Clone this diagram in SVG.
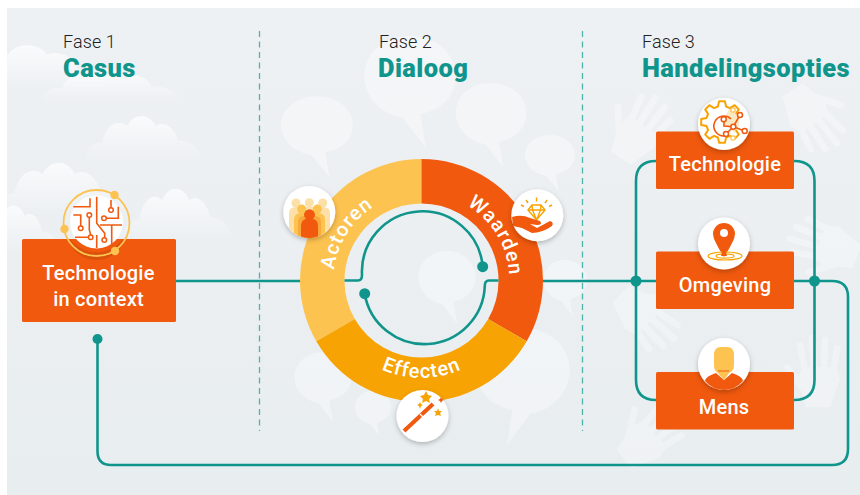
<svg xmlns="http://www.w3.org/2000/svg" width="860" height="495" viewBox="0 0 860 495">
<defs>
<linearGradient id="bg" x1="0" y1="0" x2="0" y2="1"><stop offset="0" stop-color="#eef1f4"/><stop offset="1" stop-color="#e8edf0"/></linearGradient>
<linearGradient id="cl" x1="0" y1="0" x2="0" y2="1"><stop offset="0" stop-color="#fff" stop-opacity=".7"/><stop offset="1" stop-color="#fff" stop-opacity="0"/></linearGradient>
<filter id="sh" x="-30%" y="-30%" width="160%" height="160%"><feDropShadow dx="0" dy="2" stdDeviation="2.5" flood-color="#000" flood-opacity=".25"/></filter>
<clipPath id="actclip"><circle cx="309.300" cy="212" r="26"/></clipPath>
<path id="cloud" d="M0 60C0 45 14 38 28 40C32 22 52 14 68 22C78 8 104 8 114 22C128 16 146 24 150 38C168 36 186 46 190 60Z" fill="url(#cl)"/>
<path id="bub" d="M0-40C30-40 52-22 52 0C52 20 36 34 12 38L18 72L-8 42C-34 38-52 20-52 0C-52-22-30-40 0-40Z" fill="#fff" fill-opacity=".36"/>
<g id="hand" opacity=".32">
<path fill="#fff" d="M-34-12L-6-20L6-16L6 18L-6 22L-34 12Z"/>
<path fill="none" stroke="#fff" stroke-width="6.500" stroke-linecap="round" d="M2-13L28-18M2-4L35-6M2 6L33 7M0 15L25 19M-14-16L6-31"/>
</g>
</defs>
<style>
text{font-family:Roboto,"Liberation Sans",sans-serif}
.fase{font-size:18px;font-weight:300;fill:#222;letter-spacing:.1px}
.head{font-size:25.500px;font-weight:900;fill:#0f958b;letter-spacing:.4px}
.lab{font-size:20px;font-weight:500;fill:#fff;text-anchor:middle;letter-spacing:.25px}
.ring{font-size:20px;font-weight:500;fill:#fff;text-anchor:middle;letter-spacing:1px}
.box{fill:#f0590e}
.wire{fill:none;stroke:#0f958b;stroke-width:2.600}
.dash{stroke:#4fb3ab;stroke-width:1.300;stroke-dasharray:6 4.500}
.dot{fill:#0f958b}
.disc{fill:#fff;filter:url(#sh)}
.ol{fill:none;stroke:#f0590e;stroke-width:1.600}
.n{fill:#fff;stroke:#f0590e;stroke-width:1.500}
</style>
<g id="background">
<rect x="7" y="8" width="853" height="487" fill="url(#bg)"/>
<use href="#cloud" transform="translate(-50,35) scale(.85,.9)"/>
<use href="#cloud" transform="translate(42,62) scale(.73,.65)"/>
<use href="#cloud" transform="translate(85,105) scale(.62,.95)"/>
<use href="#cloud" transform="translate(-5,150) scale(.7,1.1)"/>
<use href="#cloud" transform="translate(123,176) scale(.58,1.1)"/>
<use href="#cloud" transform="translate(-30,194) scale(.48,1)"/>
<use href="#bub" transform="translate(410,76) scale(.88,1)"/>
<use href="#bub" transform="translate(317,125) scale(.69,.72)"/>
<use href="#bub" transform="translate(491,113) scale(.68,.75)"/>
<use href="#bub" transform="translate(550,155) scale(.48,.5)"/>
<use href="#bub" transform="translate(447,277) scale(.55,.65)"/>
<use href="#bub" transform="translate(323,377) scale(.55,.62)"/>
<use href="#bub" transform="translate(373,407) scale(.35,.4)"/>
<use href="#bub" transform="translate(523,370) scale(-.9,1.05)"/>
<use href="#bub" transform="translate(565,280) scale(.42,.5)"/>
<use href="#hand" transform="translate(640,130) rotate(-55)"/>
<use href="#hand" transform="translate(812,118) rotate(55)"/>
<use href="#hand" transform="translate(825,245) rotate(200)"/>
<use href="#hand" transform="translate(818,373) rotate(-90)"/>
<use href="#hand" transform="translate(645,318) rotate(45)"/>
<use href="#hand" transform="translate(650,437) rotate(-40)"/>
</g>
<g id="dividers">
<line class="dash" x1="259.500" y1="31" x2="259.500" y2="431"/>
<line class="dash" x1="582.500" y1="31" x2="582.500" y2="431"/>
</g>
<g id="ring">
<path id="seg-actoren" fill="#fdc351" d="M421.500 159A121.500 121.500 0 0 0 316.300 341.300L354.800 319A77 77 0 0 1 421.500 203.500Z"/>
<path id="seg-waarden" fill="#f0590e" d="M421.500 159A121.500 121.500 0 0 1 526.700 341.300L488.200 319A77 77 0 0 0 421.500 203.500Z"/>
<path id="seg-effecten" fill="#f7a304" d="M316.300 341.300A121.500 121.500 0 0 0 526.700 341.300L488.200 319A77 77 0 0 1 354.800 319Z"/>
<path id="p1" fill="none" d="M342.400 319.100A88 88 0 0 1 421.500 192.500"/>
<path id="p2" fill="none" d="M421.500 192.500A88 88 0 0 1 499.200 321.800"/>
<path id="p3" fill="none" d="M337.100 329.200A97.500 97.500 0 0 0 505.900 329.200"/>
<text class="ring"><textPath href="#p1" startOffset="50%">Actoren</textPath></text>
<text class="ring"><textPath href="#p2" startOffset="50%">Waarden</textPath></text>
<text class="ring"><textPath href="#p3" startOffset="50%">Effecten</textPath></text>
</g>
<g id="connectors">
<path class="wire" d="M176 281H300"/>
<path class="wire" d="M344.500 280.500H358Q362 280.500 362 275A60.500 60.500 0 0 1 482.700 266.700"/>
<path class="wire" d="M364.700 293.700A60.500 60.500 0 0 0 484.800 286Q484.800 280.500 489 280.500H498.500"/>
<path class="wire" d="M543 281H656"/>
<path class="wire" d="M656 161Q636 161 636 181V380Q636 400 656 400"/>
<path class="wire" d="M794 161Q814.500 161 814.500 181V380Q814.500 400 794 400"/>
<path class="wire" d="M794 281H832Q848 281 848 297V449Q848 465 832 465H111Q97.500 465 97.500 451V339"/>
<circle class="dot" cx="482.700" cy="266.700" r="5.500"/>
<circle class="dot" cx="364.700" cy="293.700" r="5.500"/>
<circle class="dot" cx="636" cy="281" r="5.500"/>
<circle class="dot" cx="814.500" cy="281" r="5.500"/>
<circle class="dot" cx="97.500" cy="339" r="5"/>
</g>
<g id="fase1">
<text class="fase" x="63" y="48">Fase 1</text>
<text class="head" x="63" y="77">Casus</text>
</g>
<g id="fase2">
<text class="fase" x="379" y="48">Fase 2</text>
<text class="head" x="378" y="77">Dialoog</text>
</g>
<g id="fase3">
<text class="fase" x="642" y="48">Fase 3</text>
<text class="head" x="642" y="77">Handelingsopties</text>
</g>
<g id="node-context">
<rect class="box" x="22" y="239" width="154" height="83" rx="1.500"/>
<path d="M70 239A33 33 0 0 0 123 239V244A30 30 0 0 1 70 244Z" fill="#c94a0a" opacity=".55"/>
<circle cx="96.500" cy="222" r="26.500" fill="#fff"/>
<circle cx="96.500" cy="223" r="33" fill="none" stroke="#fdc351" stroke-width="1.800"/>
<path class="ol" d="M90 198.300V206.700H73.300M73.300 215H80.700V226.700M89.300 215V230L91 236M75 237.300H90.700M96.700 196.700V223.300L104.700 233.300V240M96.700 235V248M111 200V210M104 218.300H118.300V206.700M100 225H122M111.700 225V247"/>
<circle class="n" cx="80.700" cy="228.300" r="2.300"/>
<circle class="n" cx="89.300" cy="215" r="2.300"/>
<circle class="n" cx="90.700" cy="237.300" r="2.300"/>
<circle class="n" cx="104.300" cy="240" r="2.300"/>
<circle class="n" cx="111" cy="210" r="2.300"/>
<circle class="n" cx="104" cy="218.300" r="2.300"/>
<circle cx="114.500" cy="195" r="4.200" fill="#fdc351"/>
<circle cx="64.500" cy="229" r="4.200" fill="#fdc351"/>
<circle cx="115" cy="251" r="4.200" fill="#fdc351"/>
<text class="lab" x="98.500" y="280">Technologie</text>
<text class="lab" x="98.500" y="306">in context</text>
</g>
<g id="node-actoren">
<circle class="disc" cx="309.300" cy="212" r="26"/>
<g clip-path="url(#actclip)">
<circle cx="296" cy="203" r="4.500" fill="#fde0a8"/>
<circle cx="309.300" cy="202.700" r="4.500" fill="#fde0a8"/>
<circle cx="322.700" cy="203" r="4.500" fill="#fde0a8"/>
<path fill="#fde0a8" d="M289 238V213Q289 207 296 207H323Q330 207 330 213V238Z"/>
<circle cx="301.700" cy="209" r="4.500" fill="#fdc351"/>
<circle cx="317.300" cy="209" r="4.500" fill="#fdc351"/>
<path fill="#fdc351" d="M294 238V220Q294 213 301 213H318Q325 213 325 220V238Z"/>
<path fill="#f9a83a" d="M298 238V222Q298 216 304 216H315Q321 216 321 222V238Z"/>
<path fill="#f0590e" d="M301 238V226Q301 220 306 219A5.500 5.500 0 1 1 313 219Q318 220 318 226V238Z"/>
</g>
</g>
<g id="node-waarden">
<circle class="disc" cx="537.300" cy="215.300" r="26"/>
<path fill="none" stroke="#f7a304" stroke-width="1.400" d="M528 210L532 205H541L545 210L536.500 220ZM528 210H545M532.500 210L536.500 220L540.500 210M532 205L532.500 210M541 205L540.500 210M526 200L528 203M536.500 197.500V201.500M547 200L545 203M521 205L524 206.500M552 205L549 206.500"/>
<path fill="#f0590e" d="M512 217Q522 214 530 218L540 221Q543 225 537 225L530 224L537 228L550 221Q554 222 552 226Q542 233 532 233L522 228L513 226Z"/>
</g>
<g id="node-effecten">
<circle class="disc" cx="422.500" cy="416" r="26"/>
<path d="M404 431L433 404" stroke="#f0590e" stroke-width="4" fill="none"/>
<path d="M420 414L424 418" stroke="#fff" stroke-width="1.200"/>
<path fill="#f7a304" d="M426 391L428 395L432 396L429 399L430 403L426 401L422 403L423 399L420 396L424 395Z"/>
<path fill="#f7a304" d="M420 402L421 404L423 405L421 406L420 409L419 406L417 405L419 404Z"/>
<path fill="#f0590e" d="M441 397L442 399L444 400L442 401L441 403L440 401L438 400L440 399Z"/>
<path fill="#f7a304" d="M438 408L439 411L442 411L440 413L441 416L438 415L435 416L436 413L434 411L437 411Z"/>
</g>
<g id="node-technologie">
<rect class="box" x="656" y="131.500" width="138" height="57.500" rx="1.500"/>
<circle class="disc" cx="724" cy="124" r="26"/>
<path fill="#fde8c4" d="M730 108A16 16 0 0 1 735 133L722 122Z"/>
<path fill="none" stroke="#f7a304" stroke-width="2" stroke-linejoin="round" d="M735.900 130L738.800 134.600L734.600 138.800L730 135.900L726.100 137.500L724.900 142.800L719.100 142.800L717.900 137.500L714 135.900L709.400 138.800L705.200 134.600L708.100 130L706.500 126.100L701.200 124.900L701.200 119.100L706.500 117.900L708.100 114L705.200 109.400L709.400 105.200L714 108.100L717.900 106.500L719.100 101.200L724.900 101.200L726.100 106.500L730 108.100L734.600 105.200L738.800 109.400L735.900 114"/>
<circle cx="733" cy="110" r="2.200" fill="#fff" stroke="#fdc351" stroke-width="1.200"/>
<circle cx="733" cy="138" r="2.200" fill="#fff" stroke="#fdc351" stroke-width="1.200"/>
<path class="ol" d="M731 119A10 10 0 1 0 724 136M724 120V126L733.300 126.700L740 115M733.300 126.700L744.700 131M733.300 126.700L726 134"/>
<circle class="n" cx="723.700" cy="119.300" r="2.500"/>
<circle class="n" cx="733.300" cy="126.700" r="2.500"/>
<circle class="n" cx="740" cy="115" r="2.500"/>
<circle class="n" cx="744.700" cy="131" r="2.500"/>
<circle class="n" cx="726" cy="134" r="2.500"/>
<text class="lab" x="725" y="171">Technologie</text>
</g>
<g id="node-omgeving">
<rect class="box" x="656" y="251.500" width="138" height="57.500" rx="1.500"/>
<circle class="disc" cx="724" cy="243.500" r="26"/>
<path fill="#f0590e" d="M724 223A11 11 0 0 1 735 234Q735 240 724 257Q713 240 713 234A11 11 0 0 1 724 223Z"/>
<circle cx="724" cy="233" r="4" fill="#fff"/>
<ellipse cx="725" cy="256" rx="17" ry="4" fill="none" stroke="#f7a304" stroke-width="1.200"/>
<ellipse cx="725" cy="256" rx="9" ry="2.200" fill="none" stroke="#f7a304" stroke-width="1.200"/>
<path d="M721 256L724 247L727 256Z" fill="#f0590e"/>
<text class="lab" x="725" y="292">Omgeving</text>
</g>
<g id="node-mens">
<rect class="box" x="656" y="372" width="138" height="57.500" rx="1.500"/>
<circle class="disc" cx="724" cy="364" r="26"/>
<path fill="#f0590e" d="M705 381Q706 376 716 373L724 380L732 373Q742 376 743 381Q735 390 724 390Q713 390 705 381Z"/>
<path fill="#fdc351" d="M714 355Q714 347 721 347H727Q734 347 734 355V365Q734 371 729 373L724 380L718 373Q714 371 714 365Z"/>
<path d="M718 371L729 371" stroke="#f0590e" stroke-width="1" fill="none"/>
<text class="lab" x="724" y="414">Mens</text>
</g>
</svg>
